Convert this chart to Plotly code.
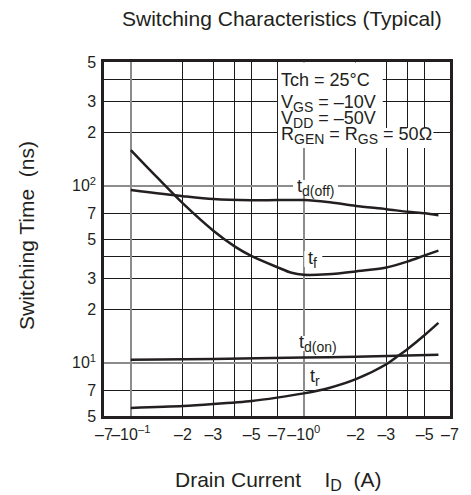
import math
import plotly.graph_objects as go

# ---------------- data ----------------
# Drain current magnitude |I_D| (A); axis labels are shown negative
I_off = [0.1, 0.2, 0.3, 0.5, 0.7, 1.0, 1.37, 2.0, 3.0, 4.0, 5.0, 6.0]
td_off = [94.6, 87.3, 84.0, 82.8, 83.0, 83.0, 80.9, 76.9, 73.7, 71.2, 69.9, 68.0]

I_f = [0.1, 0.133, 0.2, 0.3, 0.4, 0.5, 0.7, 0.85, 1.0, 1.37, 2.0, 3.0, 4.0, 5.0, 6.0]
tf = [159, 119, 79.4, 55.7, 45.3, 40.0, 34.7, 32.2, 31.4, 31.6, 32.8, 34.5, 37.4, 40.4, 43.0]

I_on = [0.1, 0.3, 1.0, 2.0, 6.0]
td_on = [10.4, 10.5, 10.7, 10.8, 11.1]

I_r = [0.1, 0.2, 0.3, 0.5, 0.7, 1.0, 1.4, 2.0, 3.0, 3.5, 4.0, 5.0, 6.0]
tr = [5.55, 5.69, 5.84, 6.08, 6.35, 6.71, 7.2, 8.07, 9.8, 10.9, 12.0, 14.35, 16.8]

x_range = [0.07, 7]
y_range = [5, 500]

x_tickvals = [0.07, 0.1, 0.2, 0.3, 0.5, 0.7, 1, 2, 3, 5, 7]
x_ticktext = ["\u20137", "\u201310<sup>\u20131</sup>", "\u20132", "\u20133", "\u20135", "\u20137",
              "\u201310<sup>0</sup>", "\u20132", "\u20133", "\u20135", "\u20137"]
x_grid = [0.2, 0.3, 0.4, 0.5, 0.7, 2, 3, 4, 5]
x_decades = [0.1, 1]

y_tickvals = [5, 7, 10, 20, 30, 50, 70, 100, 200, 300, 500]
y_ticktext = ["5", "7", "10<sup>1</sup>", "2", "3", "5", "7", "10<sup>2</sup>", "2", "3", "5"]
y_grid = [7, 20, 30, 40, 50, 70, 200, 300, 400]
y_decades = [10, 100]

SUB = "<sub><span style='font-size:14px'>{}</span></sub>"
conditions = ["Tch = 25\u00b0C",
              "V" + SUB.format("GS") + " = \u201310V",
              "V" + SUB.format("DD") + " = \u201350V",
              "R" + SUB.format("GEN") + " = R" + SUB.format("GS") + " = 50\u03a9"]
curve_labels = ["t" + SUB.format("d(off)"), "t" + SUB.format("f"),
                "t" + SUB.format("d(on)"), "t" + SUB.format("r")]

# ---------------- geometry (page pixels; page body has an 8px margin) ----------------
OFF = 8
W, H = 471 - OFF, 495 - OFF
L, T = 104 - OFF, 62 - OFF
R = W - (459 - OFF)
B = H - (416 - OFF)
PW, PH = W - L - R, H - T - B

def px(xp):
    return (xp - OFF - L) / PW

def py(yp):
    return (H - B - (yp - OFF)) / PH

FONT = "Liberation Sans, Arial, Helvetica, sans-serif"
TXT = "#231f20"

fig = go.Figure()
line = dict(color=TXT, width=2.5, shape="spline", smoothing=0.8)
for xs, ys in [(I_off, td_off), (I_f, tf), (I_on, td_on), (I_r, tr)]:
    fig.add_trace(go.Scatter(x=xs, y=ys, mode="lines", line=line,
                             showlegend=False, hoverinfo="skip"))

# invisible helpers so the overlay axes (grey decade grid) are realised
fig.add_trace(go.Scatter(x=[x_range[0]], y=[y_range[0]], xaxis="x2", yaxis="y",
                         mode="markers", marker=dict(opacity=0), showlegend=False,
                         hoverinfo="skip"))
fig.add_trace(go.Scatter(x=[x_range[0]], y=[y_range[0]], xaxis="x", yaxis="y2",
                         mode="markers", marker=dict(opacity=0), showlegend=False,
                         hoverinfo="skip"))

xr = [math.log10(v) for v in x_range]
yr = [math.log10(v) for v in y_range]
tickfont = dict(family=FONT, size=16, color=TXT)
GREY = "#8c8c8c"
BLACK_GRID = "#1a1a1a"

fig.update_layout(
    width=W, height=H, autosize=False,
    margin=dict(l=L, r=R, t=T, b=B, pad=0),
    paper_bgcolor="white", plot_bgcolor="white",
    font=dict(family=FONT, color=TXT),
    xaxis=dict(type="log", range=xr, tickmode="array", tickvals=x_tickvals,
               ticktext=x_ticktext, tickangle=0, showgrid=False, showline=True,
               mirror=True, linecolor=TXT, linewidth=2.5, ticks="",
               tickfont=tickfont, ticklabelstandoff=2, zeroline=False,
               fixedrange=True,
               minor=dict(tickmode="array", tickvals=x_grid, showgrid=True,
                          gridcolor=BLACK_GRID, gridwidth=1, ticks="")),
    xaxis2=dict(type="log", range=xr, overlaying="x", anchor="y", side="bottom",
                tickmode="array", tickvals=x_decades, showticklabels=False,
                showgrid=True, gridcolor=GREY, gridwidth=1.5, showline=False,
                ticks="", zeroline=False, fixedrange=True),
    yaxis=dict(type="log", range=yr, tickmode="array", tickvals=y_tickvals,
               ticktext=y_ticktext, tickangle=0, showgrid=False, showline=True,
               mirror=True, linecolor=TXT, linewidth=2.5, ticks="",
               tickfont=tickfont, ticklabelstandoff=2, zeroline=False,
               fixedrange=True,
               minor=dict(tickmode="array", tickvals=y_grid, showgrid=True,
                          gridcolor=BLACK_GRID, gridwidth=1, ticks="")),
    yaxis2=dict(type="log", range=yr, overlaying="y", anchor="x", side="left",
                tickmode="array", tickvals=y_decades, showticklabels=False,
                showgrid=True, gridcolor=GREY, gridwidth=1.5, showline=False,
                ticks="", zeroline=False, fixedrange=True),
)

# white backing behind the in-plot texts (they do not touch the curves)
backs = [(282.5, 390, 62.5, 128), (282.5, 442, 128, 148),
         (298, 344, 180, 195), (309.5, 328, 251, 267),
         (303, 345, 336, 351), (313, 327, 372, 385)]
shapes = []
for x0, x1, y0, y1 in backs:
    shapes.append(dict(type="rect", xref="paper", yref="paper",
                       x0=px(x0), x1=px(x1), y0=py(y1), y1=py(y0),
                       fillcolor="white", line=dict(width=0), layer="above"))

ann = []
ann.append(dict(text="Switching Characteristics (Typical)", x=px(287), y=py(19),
                xref="paper", yref="paper", xanchor="center", yanchor="middle",
                showarrow=False, font=dict(family=FONT, size=21, color=TXT)))
ann.append(dict(text="Drain Current\u00a0\u00a0\u00a0\u00a0I" +
                "<sub><span style='font-size:16px'>D</span></sub>\u00a0\u00a0(A)",
                x=px(282.5), y=py(481), xref="paper", yref="paper",
                xanchor="center", yanchor="middle", showarrow=False,
                font=dict(family=FONT, size=21, color=TXT)))
ann.append(dict(text="Switching Time\u00a0\u00a0(ns)", x=px(24), y=py(236),
                xref="paper", yref="paper", xanchor="center", yanchor="middle",
                showarrow=False, textangle=-90,
                font=dict(family=FONT, size=21, color=TXT)))

cond_y = [80, 103, 119.5, 136]
for t, yy in zip(conditions, cond_y):
    ann.append(dict(text=t, x=px(284), y=py(yy), xref="paper", yref="paper",
                    xanchor="left", yanchor="middle", showarrow=False,
                    font=dict(family=FONT, size=18, color=TXT)))

lab_pos = [(321.5, 187), (317.5, 259.5), (324, 343.5), (320, 377.5)]
for t, (xx, yy) in zip(curve_labels, lab_pos):
    ann.append(dict(text=t, x=px(xx), y=py(yy), xref="paper", yref="paper",
                    xanchor="center", yanchor="middle", showarrow=False,
                    font=dict(family=FONT, size=18, color=TXT)))

fig.update_layout(annotations=ann, shapes=shapes)

fig.write_html("out.html")
